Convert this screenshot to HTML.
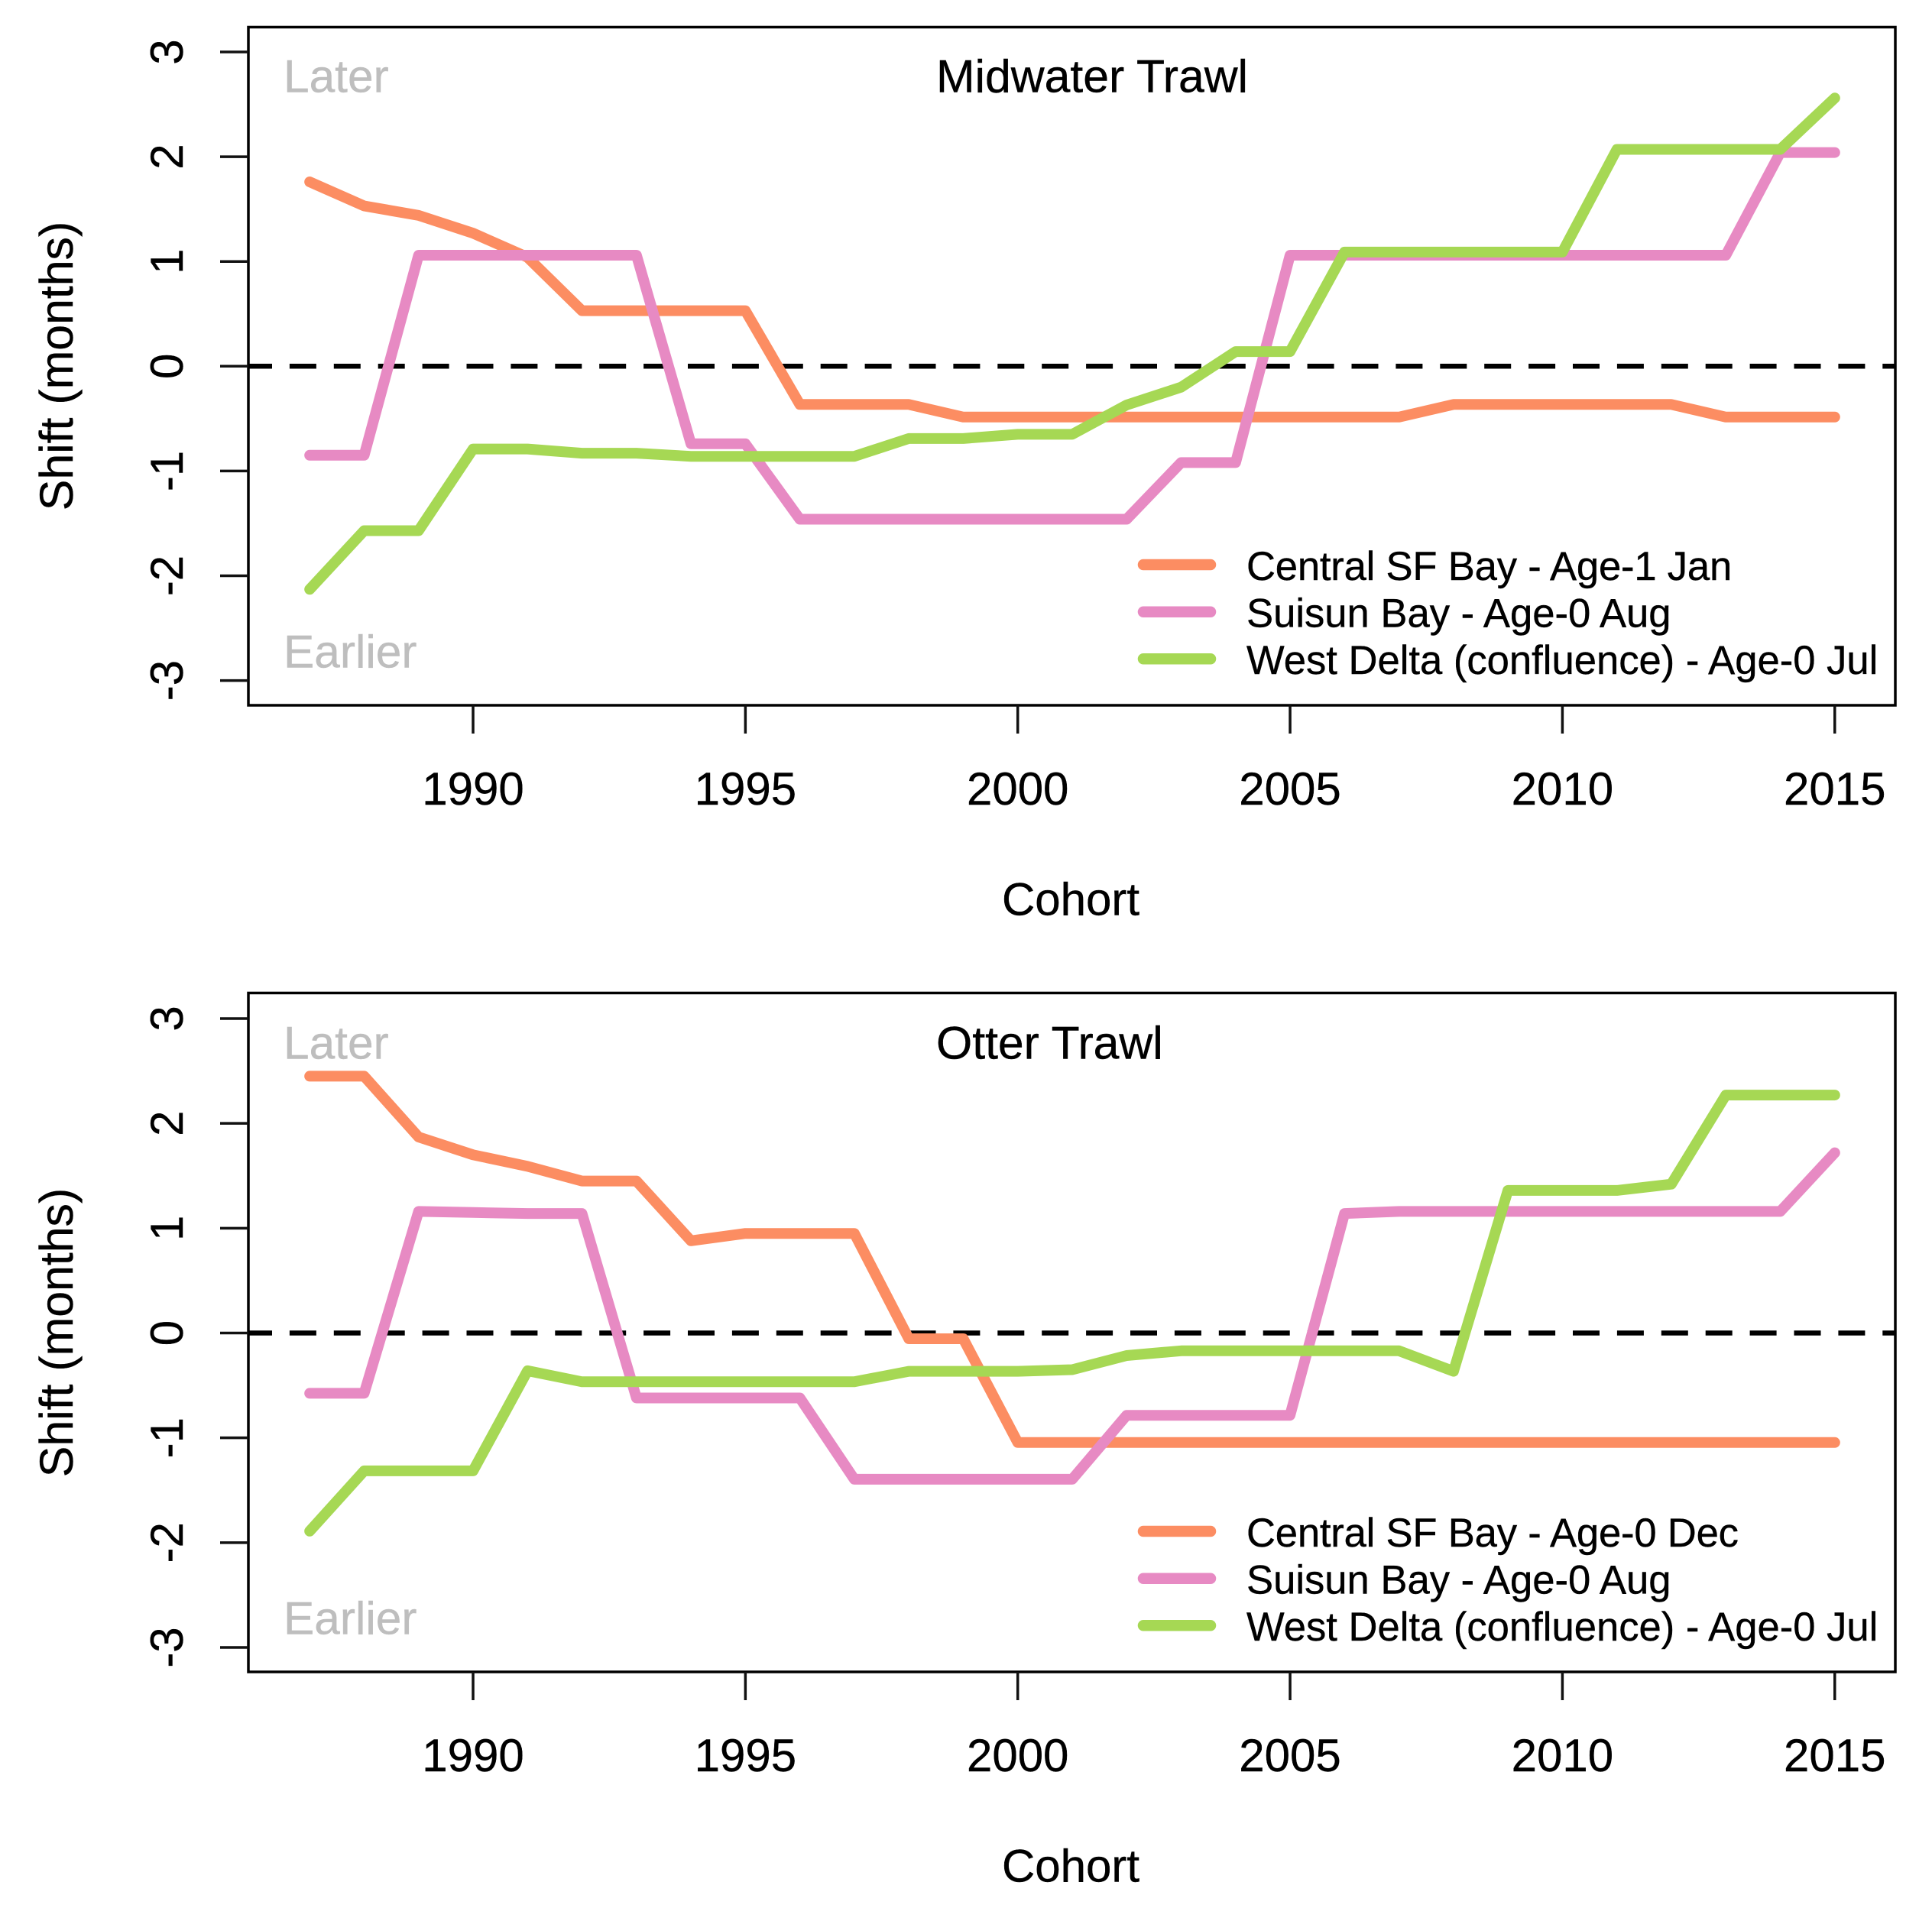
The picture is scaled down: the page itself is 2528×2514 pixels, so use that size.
<!DOCTYPE html>
<html lang="en">
<head>
<meta charset="utf-8">
<title>Phenology shift by cohort</title>
<style>
html,body{margin:0;padding:0;background:#fff;}
svg{display:block;}
text{font-family:"Liberation Sans",Arial,sans-serif;fill:#000;stroke:#000;stroke-width:0.4px;}
.tick-label{font-size:60px;}
.title{font-size:60.7px;}
.x-title{font-size:60px;}
.y-title{font-size:60.8px;}
.legend-text{font-size:52.6px;}
.tight{letter-spacing:-0.2px;}
.hint{font-size:60.4px;fill:#bebebe;stroke:#bebebe;}
</style>
</head>
<body>
<svg id="chart" xmlns="http://www.w3.org/2000/svg" width="2528" height="2514" viewBox="0 0 2528 2514">
  <rect width="2528" height="2514" fill="#fff"/>
  <g id="panel-a">
    <g id="marks-a"></g>
    <text class="hint" x="371" y="120.5">Later</text>
    <text class="hint" x="371" y="873.5">Earlier</text>
    <text class="title" x="1225" y="120.5">Midwater Trawl</text>
    <text class="x-title" x="1401" y="1197.5" text-anchor="middle">Cohort</text>
    <text class="y-title" transform="translate(95,479) rotate(-90)" text-anchor="middle">Shift (months)</text>
    <text class="legend-text tight" x="1631" y="759">Central SF Bay - Age-1 Jan</text>
    <text class="legend-text" x="1631" y="820.5">Suisun Bay - Age-0 Aug</text>
    <text class="legend-text" x="1631" y="882">West Delta (confluence) - Age-0 Jul</text>
  </g>
  <g id="panel-b">
    <g id="marks-b"></g>
    <text class="hint" x="371" y="1385.5">Later</text>
    <text class="hint" x="371" y="2138.5">Earlier</text>
    <text class="title" x="1225" y="1385.5">Otter Trawl</text>
    <text class="x-title" x="1401" y="2462.5" text-anchor="middle">Cohort</text>
    <text class="y-title" transform="translate(95,1744) rotate(-90)" text-anchor="middle">Shift (months)</text>
    <text class="legend-text tight" x="1631" y="2024">Central SF Bay - Age-0 Dec</text>
    <text class="legend-text" x="1631" y="2085.5">Suisun Bay - Age-0 Aug</text>
    <text class="legend-text" x="1631" y="2147">West Delta (confluence) - Age-0 Jul</text>
  </g>
</svg>
<script>
// Data
const cohorts = [1987,1988,1989,1990,1991,1992,1993,1994,1995,1996,1997,1998,1999,2000,2001,2002,2003,2004,2005,2006,2007,2008,2009,2010,2011,2012,2013,2014,2015];
const xTickValues = [1990,1995,2000,2005,2010,2015];
const yTickValues = [-3,-2,-1,0,1,2,3];

const midwaterCentral = [1.76,1.53,1.44,1.27,1.04,0.53,0.53,0.53,0.53,-0.365,-0.365,-0.365,-0.485,-0.485,-0.485,-0.485,-0.485,-0.485,-0.485,-0.485,-0.485,-0.365,-0.365,-0.365,-0.365,-0.365,-0.485,-0.485,-0.485];
const midwaterSuisun = [-0.85,-0.85,1.06,1.06,1.06,1.06,1.06,-0.74,-0.74,-1.46,-1.46,-1.46,-1.46,-1.46,-1.46,-1.46,-0.92,-0.92,1.06,1.06,1.06,1.06,1.06,1.06,1.06,1.06,1.06,2.04,2.04];
const midwaterWest = [-2.13,-1.57,-1.57,-0.79,-0.79,-0.83,-0.83,-0.86,-0.86,-0.86,-0.86,-0.69,-0.69,-0.65,-0.65,-0.37,-0.2,0.14,0.14,1.09,1.09,1.09,1.09,1.09,2.07,2.07,2.07,2.07,2.56];

const otterCentral = [2.45,2.45,1.87,1.7,1.59,1.45,1.45,0.88,0.95,0.95,0.95,-0.055,-0.055,-1.045,-1.045,-1.045,-1.045,-1.045,-1.045,-1.045,-1.045,-1.045,-1.045,-1.045,-1.045,-1.045,-1.045,-1.045,-1.045];
const otterSuisun = [-0.575,-0.575,1.16,1.15,1.14,1.14,-0.62,-0.62,-0.62,-0.62,-1.395,-1.395,-1.395,-1.395,-1.395,-0.785,-0.785,-0.785,-0.785,1.14,1.16,1.16,1.16,1.16,1.16,1.16,1.16,1.16,1.72];
const otterWest = [-1.89,-1.315,-1.315,-1.315,-0.36,-0.465,-0.465,-0.465,-0.465,-0.465,-0.465,-0.365,-0.365,-0.365,-0.35,-0.215,-0.17,-0.17,-0.17,-0.17,-0.17,-0.365,1.36,1.36,1.36,1.42,2.27,2.27,2.27];

const NS = 'http://www.w3.org/2000/svg';
const ORANGE = '#fc8d62', PINK = '#e78ac3', GREEN = '#a6d854';

function xScale(year) { return 619 + (year - 1990) * 71.27; }

function make(parent, tag, attrs) {
  const el = document.createElementNS(NS, tag);
  for (const k in attrs) el.setAttribute(k, attrs[k]);
  parent.appendChild(el);
  return el;
}

function drawPanel(g, box, yScale, series, legendY) {
  const tickStroke = '#111';

  // reference line at zero
  const zero = make(g, 'line', {x1: box.left, x2: box.right, y1: yScale(0), y2: yScale(0), stroke: '#000', 'stroke-width': 6.5, 'stroke-dasharray': '35 22.9', 'stroke-dashoffset': 4});
  
  

  // series lines
  series.forEach(function (s) {
    const pts = cohorts.map(function (yr, i) { return xScale(yr).toFixed(1) + ',' + yScale(s.values[i]).toFixed(1); }).join(' ');
    const line = make(g, 'polyline', {points: pts, fill: 'none', stroke: s.color, 'stroke-width': 14, 'stroke-linecap': 'round', 'stroke-linejoin': 'round'});
    
    
  });

  // plot frame
  const frame = make(g, 'rect', {x: box.left, y: box.top, width: box.right - box.left, height: box.bottom - box.top, fill: 'none', stroke: '#000', 'stroke-width': 3.5});
  
  

  // x axis
  xTickValues.forEach(function (v) {
    const x = xScale(v);
    const tick = make(g, 'line', {x1: x, x2: x, y1: box.bottom, y2: box.bottom + 37, stroke: tickStroke, 'stroke-width': 3.5});
    
    
    const label = make(g, 'text', {x: x, y: box.bottom + 130, 'text-anchor': 'middle', class: 'tick-label'});
    label.textContent = String(v);
    
    
  });

  // y axis
  yTickValues.forEach(function (v) {
    const y = yScale(v);
    const tick = make(g, 'line', {x1: box.left - 37, x2: box.left, y1: y, y2: y, stroke: tickStroke, 'stroke-width': 3.5});
    
    
    const label = make(g, 'text', {transform: 'translate(239,' + y + ') rotate(-90)', 'text-anchor': 'middle', class: 'tick-label'});
    label.textContent = String(v);
    
    
  });

  // legend swatches
  series.forEach(function (s, i) {
    const sw = make(g, 'line', {x1: 1496, x2: 1584, y1: legendY[i], y2: legendY[i], stroke: s.color, 'stroke-width': 14.5, 'stroke-linecap': 'round'});
    
    
  });
}

drawPanel(
  document.getElementById('marks-a'),
  {left: 325, right: 2480, top: 35.5, bottom: 923},
  function (v) { return 479.3 - v * 137.1; },
  [
    {name: 'central-sf-bay', color: ORANGE, values: midwaterCentral},
    {name: 'suisun-bay', color: PINK, values: midwaterSuisun},
    {name: 'west-delta', color: GREEN, values: midwaterWest}
  ],
  [739, 800.7, 862.3]
);

drawPanel(
  document.getElementById('marks-b'),
  {left: 325, right: 2480, top: 1299.5, bottom: 2188},
  function (v) { return 1744.5 - v * 137.17; },
  [
    {name: 'central-sf-bay', color: ORANGE, values: otterCentral},
    {name: 'suisun-bay', color: PINK, values: otterSuisun},
    {name: 'west-delta', color: GREEN, values: otterWest}
  ],
  [2004, 2065.7, 2127.3]
);
</script>
</body>
</html>
